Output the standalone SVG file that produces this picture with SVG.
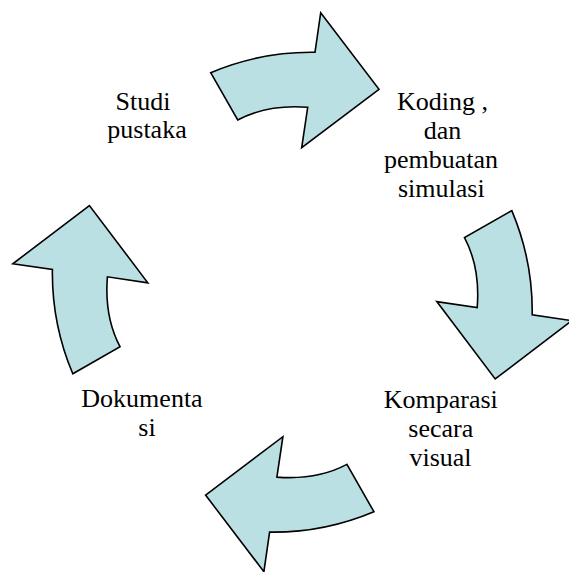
<svg xmlns="http://www.w3.org/2000/svg" xmlns:xlink="http://www.w3.org/1999/xlink" width="569" height="572" viewBox="0 0 569 572">
  <style>
    .arrow { fill: #BBE0E3; stroke: #000000; stroke-width: 1.6; stroke-linejoin: miter; }
    .label { font-family: "Liberation Serif", "Times New Roman", serif; font-size: 26px; fill: #000000; text-anchor: middle; }
  </style>
  <defs>
    <path id="arrowShape" d="M210.7,72.7 Q261,51.5 315,52.3 L320.7,12.7 L379,89.3 L301.7,147.7 L307.7,107.3 Q267.7,104.1 237.7,120 Z"/>
  </defs>
  <rect width="569" height="572" fill="#FFFFFF"/>
  <g id="connectors">
    <g id="arrow-top"><use href="#arrowShape" xlink:href="#arrowShape" class="arrow"/></g>
    <g id="arrow-right"><use href="#arrowShape" xlink:href="#arrowShape" class="arrow" transform="rotate(90 292.3 292.2)"/></g>
    <g id="arrow-bottom"><use href="#arrowShape" xlink:href="#arrowShape" class="arrow" transform="rotate(180 292.3 292.2)"/></g>
    <g id="arrow-left"><use href="#arrowShape" xlink:href="#arrowShape" class="arrow" transform="rotate(270 292.3 292.2)"/></g>
  </g>
  <g id="node-studi">
    <text class="label"><tspan x="143" y="109.5">Studi</tspan><tspan x="147" y="137.5">pustaka</tspan></text>
  </g>
  <g id="node-koding">
    <text class="label"><tspan x="442.5" y="109.5">Koding ,</tspan><tspan x="442.5" y="138.5">dan</tspan><tspan x="441" y="167.5">pembuatan</tspan><tspan x="441.3" y="196.5">simulasi</tspan></text>
  </g>
  <g id="node-komparasi">
    <text class="label"><tspan x="440.8" y="408">Komparasi</tspan><tspan x="440.8" y="437">secara</tspan><tspan x="440.5" y="466">visual</tspan></text>
  </g>
  <g id="node-dokumentasi">
    <text class="label"><tspan x="142" y="407">Dokumenta</tspan><tspan x="147" y="436">si</tspan></text>
  </g>
</svg>
